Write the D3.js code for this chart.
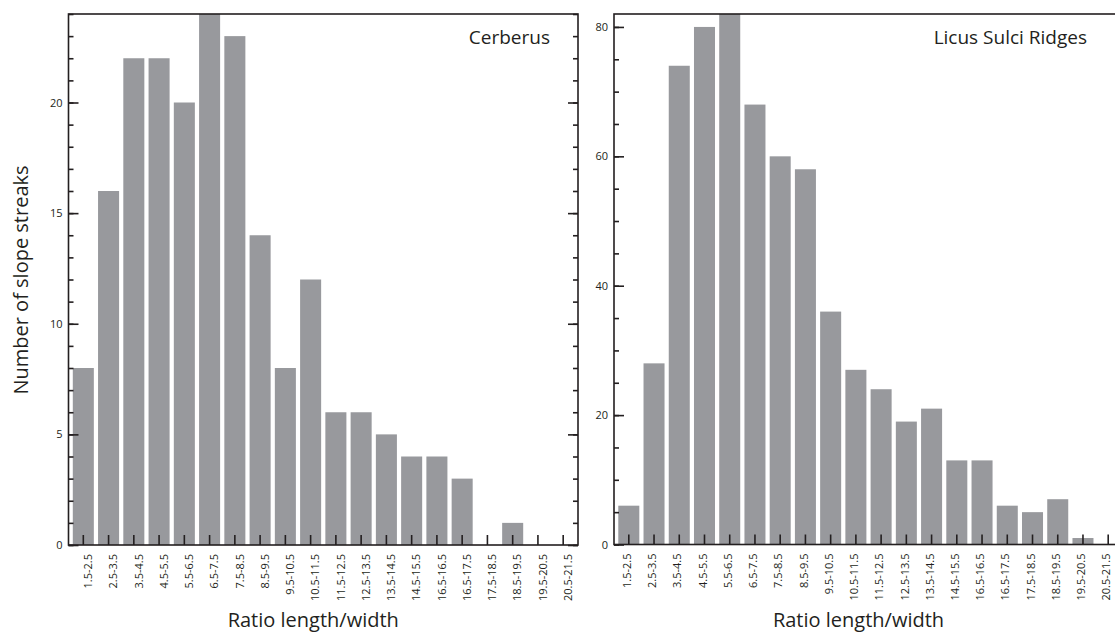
<!DOCTYPE html>
<html>
<head>
<meta charset="utf-8">
<script src="https://cdn.jsdelivr.net/npm/d3@7"></script>
<style>
  body { margin: 0; background: #fff; }
  svg { display: block; font-family: "Open Sans", sans-serif; }
</style>
</head>
<body>
<svg id="chart"></svg>
<script>
// bins as printed on the original figure (incl. its "16.5-16.5" label)
const bins = ["1.5-2.5", "2.5-3.5", "3.5-4.5", "4.5-5.5", "5.5-6.5", "6.5-7.5", "7.5-8.5",
  "8.5-9.5", "9.5-10.5", "10.5-11.5", "11.5-12.5", "12.5-13.5", "13.5-14.5", "14.5-15.5",
  "16.5-16.5", "16.5-17.5", "17.5-18.5", "18.5-19.5", "19.5-20.5", "20.5-21.5"];

const cerberusCounts = [8, 16, 22, 22, 20, 24, 23, 14, 8, 12, 6, 6, 5, 4, 4, 3, 0, 1, 0, 0];
const licusCounts = [6, 28, 74, 80, 82, 68, 60, 58, 36, 27, 24, 19, 21, 13, 13, 6, 5, 7, 1, 0];

const cerberusYTicks = [0, 5, 10, 15, 20];
const licusYTicks = [0, 20, 40, 60, 80];

const width = 1115, height = 637;
const ink = "#231f20";
const barColor = "#98999d";

const svg = d3.select("#chart")
  .attr("width", width)
  .attr("height", height)
  .attr("viewBox", `0 0 ${width} ${height}`);

function drawPanel({ left, right, top, bottom, values, yMax, majorTicks, minorStep, rightMinor, title, labelShift }) {
  const g = svg.append("g");

  const x = d3.scaleBand(bins, [left, right]).paddingInner(0.167).paddingOuter(0.17);
  const y = d3.scaleLinear([0, yMax], [bottom, top]);
  const minorTicks = d3.range(0, yMax + 0.001, minorStep);

  const clipId = "clip" + Math.round(left);
  g.append("clipPath").attr("id", clipId)
    .append("rect").attr("x", left).attr("y", top).attr("width", right - left).attr("height", bottom - top);

  // bars
  g.append("g")
    .attr("clip-path", `url(#${clipId})`)
    .selectAll("rect")
    .data(values)
    .join("rect")
    .attr("x", (d, i) => x(bins[i]))
    .attr("width", x.bandwidth())
    .attr("y", d => y(d))
    .attr("height", d => y(0) - y(d))
    .attr("fill", barColor);

  // left axis: minor then major ticks pointing inward
  g.append("g")
    .attr("transform", `translate(${left},0)`)
    .call(d3.axisLeft(y).tickValues(minorTicks).tickSizeInner(-5).tickSizeOuter(0).tickFormat(""))
    .call(a => a.select(".domain").remove());
  g.append("g")
    .attr("transform", `translate(${left},0)`)
    .call(d3.axisLeft(y).tickValues(majorTicks).tickSizeInner(-10).tickSizeOuter(0).tickPadding(6))
    .call(a => a.select(".domain").remove())
    .attr("font-family", "'Open Sans', sans-serif")
    .attr("font-size", 11);

  // right axis, ticks only
  g.append("g")
    .attr("transform", `translate(${right},0)`)
    .call(d3.axisRight(y).tickValues(rightMinor ? minorTicks : majorTicks)
      .tickSizeInner(rightMinor ? -5 : -8).tickSizeOuter(0).tickFormat(""))
    .call(a => a.select(".domain").remove());
  if (rightMinor) {
    g.append("g")
      .attr("transform", `translate(${right},0)`)
      .call(d3.axisRight(y).tickValues(majorTicks).tickSizeInner(-10).tickSizeOuter(0).tickFormat(""))
      .call(a => a.select(".domain").remove());
  }

  // bottom axis with rotated bin labels
  g.append("g")
    .attr("transform", `translate(0,${bottom})`)
    .call(d3.axisBottom(x).tickSizeInner(-10).tickSizeOuter(0))
    .call(a => a.select(".domain").remove())
    .call(a => a.selectAll(".tick text")
      .attr("transform", "rotate(-90)")
      .attr("x", -9)
      .attr("y", 0)
      .attr("dy", labelShift)
      .attr("text-anchor", "end"))
    .attr("font-family", "'Open Sans', sans-serif")
    .attr("font-size", 11);

  g.selectAll(".tick line").attr("stroke", ink).attr("stroke-width", 1.6);
  g.selectAll(".tick text").attr("fill", ink);

  // frame
  g.append("rect")
    .attr("x", left).attr("y", top)
    .attr("width", right - left).attr("height", bottom - top)
    .attr("fill", "none")
    .attr("stroke", ink)
    .attr("stroke-width", 1.6);

  // panel name
  g.append("text")
    .attr("x", right - 28 - (right > width ? 8 : 0))
    .attr("y", 44)
    .attr("text-anchor", "end")
    .attr("font-size", 19)
    .attr("fill", ink)
    .text(title);

  // x title
  g.append("text")
    .attr("x", (left + right) / 2 - 10)
    .attr("y", 627)
    .attr("text-anchor", "middle")
    .attr("font-size", 20)
    .attr("fill", ink)
    .text("Ratio length/width");
}

drawPanel({
  left: 68.5, right: 578, top: 14, bottom: 545,
  values: cerberusCounts, yMax: 24,
  majorTicks: cerberusYTicks, minorStep: 1, rightMinor: true,
  title: "Cerberus", labelShift: "0.8em"
});

drawPanel({
  left: 614, right: 1123, top: 14, bottom: 544.5,
  values: licusCounts, yMax: 82,
  majorTicks: licusYTicks, minorStep: 5, rightMinor: false,
  title: "Licus Sulci Ridges", labelShift: "0.2em"
});

svg.append("text")
  .attr("transform", "translate(28,280) rotate(-90)")
  .attr("text-anchor", "middle")
  .attr("font-size", 20)
  .attr("fill", ink)
  .text("Number of slope streaks");
</script>
</body>
</html>
